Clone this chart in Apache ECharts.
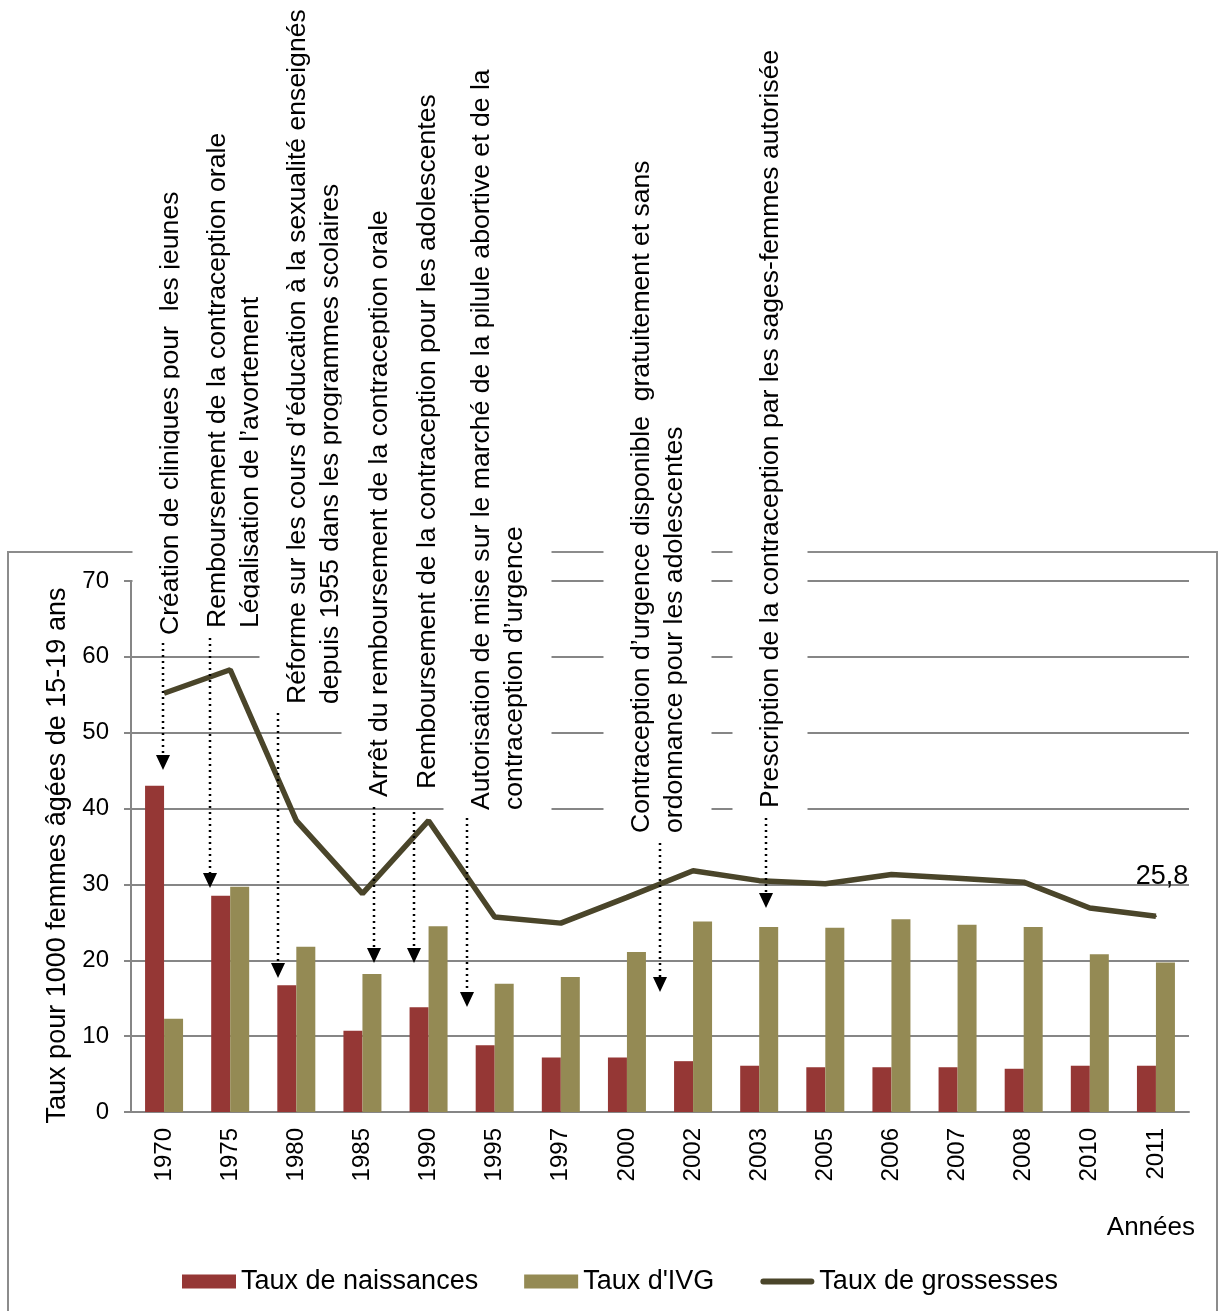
<!DOCTYPE html>
<html>
<head>
<meta charset="utf-8">
<title>Taux pour 1000 femmes âgées de 15-19 ans</title>
<script src="https://cdn.jsdelivr.net/npm/echarts@6/dist/echarts.min.js"></script>
<style>
  html, body { margin: 0; padding: 0; background: #fff; }
  #main { width: 1219px; height: 1311px; }
</style>
</head>
<body>
<div id="main"></div>
<script>
// données
var annees = ['1970', '1975', '1980', '1985', '1990', '1995', '1997', '2000', '2002', '2003', '2005', '2006', '2007', '2008', '2010', '2011'];
var naissances = [43.0, 28.5, 16.7, 10.7, 13.8, 8.8, 7.2, 7.2, 6.7, 6.1, 5.9, 5.9, 5.9, 5.7, 6.1, 6.1];
var ivg = [12.3, 29.7, 21.8, 18.2, 24.5, 16.9, 17.8, 21.1, 25.1, 24.4, 24.3, 25.4, 24.7, 24.4, 20.8, 19.7];
var grossesses = [55.2, 58.3, 38.4, 28.8, 38.4, 25.7, 24.9, 28.3, 31.8, 30.5, 30.1, 31.3, 30.8, 30.3, 26.9, 25.8];

var legendNames = ['Taux de naissances', "Taux d'IVG", 'Taux de grossesses'];

// événements (texte vertical) : lignes, centre x de la 1re ligne, bas du texte
var evenements = [
  [['Création de cliniques pour  les jeunes'], 171, 635],
  [['Remboursement de la contraception orale', 'Légalisation de l’avortement'], 218, 628],
  [['Réforme sur les cours d’éducation à la sexualité enseignés', 'depuis 1955 dans les programmes scolaires'], 298, 704],
  [['Arrêt du remboursement de la contraception orale'], 380, 797],
  [['Remboursement de la contraception pour les adolescentes'], 428, 789],
  [['Autorisation de mise sur le marché de la pilule abortive et de la', 'contraception d’urgence'], 482, 810],
  [['Contraception d’urgence disponible  gratuitement et sans', 'ordonnance pour les adolescentes'], 642, 833],
  [['Prescription de la contraception par les sages-femmes autorisée'], 771, 808]
];
// flèches pointillées : x, haut, pointe
var fleches = [
  [163, 643, 770], [210, 638, 888], [278, 713, 978], [374, 807, 963],
  [414, 812, 963], [467, 818, 1007], [660, 843, 992], [766, 818, 908]
];

var font = '"Liberation Sans", Arial, sans-serif';
var gris = '#868686';
var couleurLigne = '#4A452A';

var chart = echarts.init(document.getElementById('main'));

var graphics = [];
// cadre du graphique
graphics.push({
  type: 'rect', z: 1, silent: true,
  shape: { x: 8, y: 552, width: 1209, height: 820 },
  style: { fill: null, stroke: '#8c8c8c', lineWidth: 2 }
});

var lh = 33;
evenements.forEach(function (ev) {
  graphics.push({
    type: 'text', z: 10, silent: true,
    x: ev[1] - 22 - lh / 2,
    y: ev[2] + 6,
    rotation: Math.PI / 2,
    style: {
      text: ev[0].join('\n'),
      fontSize: 26.6,
      fontFamily: font,
      fill: '#000',
      lineHeight: lh,
      align: 'left',
      verticalAlign: 'top',
      backgroundColor: '#fff',
      padding: [22, 6, 20, 6]
    }
  });
});

fleches.forEach(function (f) {
  graphics.push({
    type: 'line', z: 11, silent: true,
    shape: { x1: f[0], y1: f[1], x2: f[0], y2: f[2] - 12 },
    style: { stroke: '#000', lineWidth: 2.5, lineDash: [2, 4] }
  });
  graphics.push({
    type: 'polygon', z: 11, silent: true,
    shape: { points: [[f[0] - 7, f[2] - 15], [f[0] + 7, f[2] - 15], [f[0], f[2]]] },
    style: { fill: '#000' }
  });
});

graphics.push({
  type: 'text', z: 10, silent: true,
  x: 1195, y: 1228,
  style: { text: 'Années', fontSize: 26, fontFamily: font, fill: '#000', align: 'right', verticalAlign: 'middle' }
});

var option = {
  backgroundColor: '#fff',
  animation: false,
  textStyle: { fontFamily: font },
  grid: { left: 131, right: 30, top: 581, bottom: 199 },
  legend: {
    left: 177,
    top: 1263,
    itemGap: 46,
    itemWidth: 54,
    itemHeight: 14,
    textStyle: { fontSize: 27, color: '#000', fontFamily: font },
    data: [
      { name: legendNames[0], icon: 'rect' },
      { name: legendNames[1], icon: 'rect' },
      { name: legendNames[2], icon: 'path://M3,0 L51,0 A3,3 0 0 1 51,6 L3,6 A3,3 0 0 1 3,0 Z' }
    ]
  },
  xAxis: {
    type: 'category',
    data: annees,
    axisLine: { lineStyle: { color: gris, width: 2 } },
    axisTick: { length: 8, lineStyle: { color: gris, width: 2 } },
    axisLabel: { rotate: 90, fontSize: 24, color: '#000', margin: 16, fontFamily: font }
  },
  yAxis: {
    type: 'value',
    min: 0, max: 70, interval: 10,
    name: 'Taux pour 1000 femmes âgées de 15-19 ans',
    nameLocation: 'middle',
    nameGap: 58,
    nameTextStyle: { fontSize: 27, color: '#000', fontFamily: font, padding: [0, 18, 0, 0] },
    axisLine: { show: true, lineStyle: { color: gris, width: 2 } },
    axisTick: { show: true, length: 7, lineStyle: { color: gris, width: 2 } },
    axisLabel: { fontSize: 24, color: '#000', margin: 22, fontFamily: font },
    splitLine: { lineStyle: { color: gris, width: 2 } }
  },
  series: [
    {
      name: legendNames[0],
      type: 'bar',
      barWidth: 19,
      barGap: '0%',
      itemStyle: { color: '#953735' },
      data: naissances
    },
    {
      name: legendNames[1],
      type: 'bar',
      barWidth: 19,
      barGap: '0%',
      itemStyle: { color: '#948A54' },
      data: ivg
    },
    {
      name: legendNames[2],
      type: 'line',
      symbol: 'none',
      lineStyle: { color: couleurLigne, width: 5.5 },
      itemStyle: { color: couleurLigne },
      data: grossesses.map(function (v, i) {
        if (i !== grossesses.length - 1) return v;
        // dernier point : étiquette de valeur
        return {
          value: v,
          symbol: 'circle',
          symbolSize: 2,
          label: {
            show: true,
            position: 'top',
            distance: 25,
            offset: [6, 0],
            fontSize: 27,
            color: '#000',
            fontFamily: font,
            formatter: function (p) { return String(p.value).replace('.', ','); }
          }
        };
      })
    }
  ],
  graphic: graphics
};

chart.setOption(option);
</script>
</body>
</html>
